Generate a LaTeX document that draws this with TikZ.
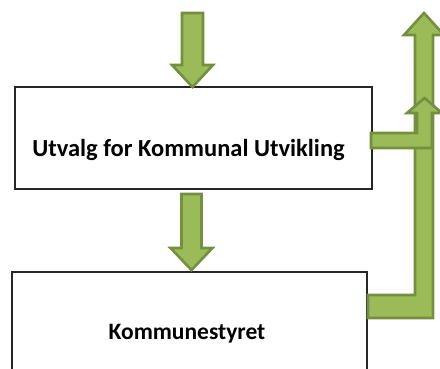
\documentclass[tikz,border=0pt]{standalone}
\usepackage{fontspec}
\setmainfont{Carlito}
\usetikzlibrary{calc}
\definecolor{arrfill}{HTML}{9BBB59}
\definecolor{arrline}{HTML}{73903F}
\begin{document}
\begin{tikzpicture}[x=1pt,y=-1pt,
  boxstyle/.style={draw=black!85,line width=1.3pt,fill=white,inner sep=0pt},
  blockarrow/.style={fill=arrfill,draw=arrline,line width=2.6pt,line join=miter},
  labeltext/.style={font=\fontsize{24.5}{28}\selectfont\bfseries,text=black}]
\useasboundingbox (0,0) rectangle (440,368);
% boxes
\node[boxstyle,minimum width=357pt,minimum height=102pt] (box1) at (193.5,138) {};
\node[labeltext] (utvalg) at (188.5,150) {Utvalg for Kommunal Utvikling};
\node[boxstyle,minimum width=355pt,minimum height=106pt] (box2) at (189.5,325) {};
\node[labeltext,font=\fontsize{23.5}{28}\selectfont\bfseries] (kstyre) at (187,334) {Kommunestyret};
% top arrow into box 1
\coordinate (a1tip) at (192.5,87);
\path[blockarrow] ($(a1tip)+(-10.5,-74)$) -- ($(a1tip)+(10.5,-74)$) -- ($(a1tip)+(10.5,-22)$)
  -- ($(a1tip)+(20.5,-22)$) -- (a1tip) -- ($(a1tip)+(-20.5,-22)$) -- ($(a1tip)+(-10.5,-22)$) -- cycle;
% arrow box1 -> box2
\coordinate (a2tip) at (191.5,270);
\path[blockarrow] ($(a2tip)+(-10,-76)$) -- ($(a2tip)+(10,-76)$) -- ($(a2tip)+(10,-22)$)
  -- ($(a2tip)+(21,-22)$) -- (a2tip) -- ($(a2tip)+(-21,-22)$) -- ($(a2tip)+(-10,-22)$) -- cycle;
% big L arrow from box 2
\coordinate (bigtip) at (424,13);
\path[blockarrow] (368,295) -- (415,295) -- (415,35) -- (404,35) -- (bigtip) -- (444,35)
  -- (433,35) -- (433,318) -- (368,318) -- cycle;
% small L arrow from box 1
\coordinate (smalltip) at (424.5,98);
\path[blockarrow] (371,133) -- (417,133) -- (417,113) -- (407,113) -- (smalltip) -- (442,113)
  -- (432,113) -- (432,148) -- (371,148) -- cycle;
\end{tikzpicture}
\end{document}
